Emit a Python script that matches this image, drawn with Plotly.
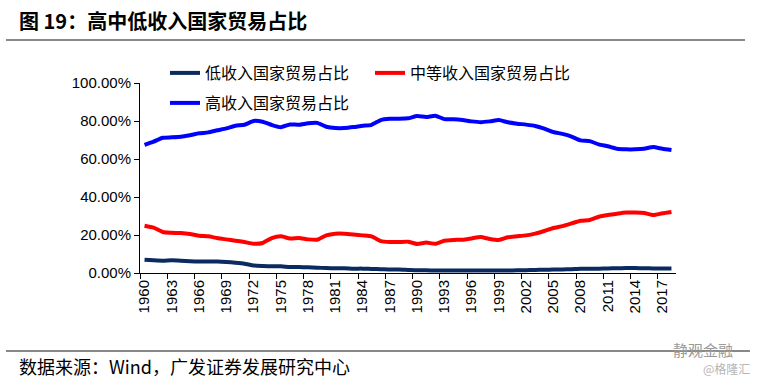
import plotly.graph_objects as go

years = list(range(1960, 2019))

low_income = [7.0, 6.7, 6.5, 6.7, 6.5, 6.2, 6.0, 6.0, 6.0, 5.8,
              5.4, 4.9, 4.0, 3.7, 3.5, 3.5, 3.2, 3.2, 3.0, 2.8,
              2.6, 2.5, 2.5, 2.3, 2.3, 2.1, 2.0, 1.8, 1.8, 1.6,
              1.4, 1.4, 1.3, 1.3, 1.3, 1.3, 1.3, 1.3, 1.3, 1.3,
              1.3, 1.4, 1.5, 1.6, 1.7, 1.8, 1.9, 2.0, 2.2, 2.2,
              2.3, 2.4, 2.5, 2.6, 2.6, 2.5, 2.4, 2.4, 2.4]

mid_income = [24.9, 23.9, 21.6, 21.2, 21.0, 20.5, 19.6, 19.3, 18.4, 17.7,
              17.0, 16.3, 15.4, 15.8, 18.4, 19.3, 18.2, 18.4, 17.7, 17.5,
              19.8, 20.7, 20.7, 20.3, 19.8, 19.3, 16.8, 16.3, 16.3, 16.5,
              15.3, 16.0, 15.4, 17.0, 17.4, 17.5, 18.2, 18.9, 17.9, 17.4,
              18.8, 19.3, 19.8, 20.7, 22.1, 23.7, 24.7, 26.1, 27.5, 27.9,
              29.6, 30.5, 31.2, 31.8, 31.8, 31.6, 30.5, 31.4, 32.1]

high_income = [67.4, 69.1, 71.2, 71.4, 71.7, 72.5, 73.5, 74.0, 75.1, 76.1,
               77.5, 78.0, 80.0, 79.6, 77.9, 76.7, 78.2, 78.0, 78.8, 79.0,
               77.0, 76.3, 76.3, 76.8, 77.5, 78.0, 80.5, 81.2, 81.2, 81.4,
               82.6, 82.1, 82.8, 81.0, 80.9, 80.5, 79.8, 79.4, 79.8, 80.5,
               79.3, 78.6, 78.1, 77.4, 76.0, 74.2, 73.2, 71.8, 69.8, 69.4,
               67.7, 66.7, 65.4, 65.1, 65.1, 65.4, 66.3, 65.4, 64.7]

series_names = ["低收入国家贸易占比", "中等收入国家贸易占比", "高收入国家贸易占比"]
label_years = years[::3]
y_ticks = [0, 0.2, 0.4, 0.6, 0.8, 1.0]

title_text = "<b>图 19：高中低收入国家贸易占比</b>"
source_text = "数据来源：Wind，广发证券发展研究中心"

W, H = 757, 381
ML, MR, MT, MB = 140, 81, 83, 108
PW, PH = W - ML - MR, H - MT - MB

def px_x(p):
    return (p - ML) / PW

def px_y(p):
    return (H - MB - p) / PH

cjk = "Noto Sans CJK SC"
arial = "Liberation Sans, Arial"

fig = go.Figure()
specs = [
    (low_income, "#0B2A5F", series_names[0], "legend"),
    (mid_income, "#FF0000", series_names[1], "legend"),
    (high_income, "#0000FF", series_names[2], "legend2"),
]
for vals, color, name, leg in specs:
    fig.add_trace(go.Scatter(
        x=years, y=[v / 100 for v in vals], mode="lines", name=name,
        line=dict(color=color, width=4, shape="spline", smoothing=0.5),
        legend=leg,
    ))

# invisible trace to carry the boundary-tick axis
fig.add_trace(go.Scatter(x=years, y=[v / 100 for v in low_income], xaxis="x2",
                         mode="lines", line=dict(width=0), opacity=0,
                         showlegend=False, hoverinfo="skip"))

fig.update_layout(
    width=W, height=H,
    margin=dict(l=ML, r=MR, t=MT, b=MB),
    paper_bgcolor="white", plot_bgcolor="white",
    font=dict(family=arial, size=15, color="black"),
    showlegend=True,
    xaxis=dict(
        range=[years[0] - 0.5, years[-1] + 0.5],
        tickmode="array", tickvals=label_years,
        ticktext=[str(y) for y in label_years],
        tickangle=-90, ticks="", showgrid=False, zeroline=False,
        showline=True, linecolor="black", linewidth=1,
        tickfont=dict(family=arial, size=15, color="black"),
    ),
    xaxis2=dict(
        overlaying="x", anchor="y", side="bottom",
        range=[years[0] - 0.5, years[-1] + 0.5],
        tickmode="array", tickvals=[y - 0.5 for y in label_years],
        ticks="outside", ticklen=5, tickcolor="black", tickwidth=1,
        showticklabels=False, showgrid=False, zeroline=False, showline=False,
    ),
    yaxis=dict(
        range=[0, 1], tickmode="array", tickvals=y_ticks, tickformat=".2%",
        ticks="outside", ticklen=5, tickcolor="black",
        showgrid=False, zeroline=False,
        showline=True, linecolor="black", linewidth=1,
        tickfont=dict(family=arial, size=15, color="black"),
    ),
    legend=dict(
        orientation="h", x=px_x(165), y=px_y(73), xanchor="left", yanchor="middle",
        font=dict(family=cjk, size=16, color="black"),
        entrywidth=160, entrywidthmode="pixels", bgcolor="rgba(0,0,0,0)",
    ),
    legend2=dict(
        orientation="h", x=px_x(165), y=px_y(103), xanchor="left", yanchor="middle",
        font=dict(family=cjk, size=16, color="black"), bgcolor="rgba(0,0,0,0)",
    ),
    shapes=[
        dict(type="line", xref="paper", yref="paper", x0=px_x(6), x1=px_x(745),
             y0=px_y(40), y1=px_y(40), line=dict(color="#606060", width=1.5)),
        dict(type="line", xref="paper", yref="paper", x0=px_x(6), x1=px_x(750),
             y0=px_y(351), y1=px_y(351), line=dict(color="#606060", width=1.5)),
    ],
    annotations=[
        dict(text=title_text, xref="paper", yref="paper", x=px_x(17), y=px_y(20),
             xanchor="left", yanchor="middle", showarrow=False,
             font=dict(family=cjk, size=20, color="black")),
        dict(text=source_text, xref="paper", yref="paper", x=px_x(17), y=px_y(366),
             xanchor="left", yanchor="middle", showarrow=False,
             font=dict(family=cjk, size=18, color="black")),
        dict(text="静观金融", xref="paper", yref="paper", x=px_x(735), y=px_y(349),
             xanchor="right", yanchor="middle", showarrow=False,
             font=dict(family=cjk, size=15, color="#9a9a9a")),
        dict(text="@格隆汇", xref="paper", yref="paper", x=px_x(752), y=px_y(368),
             xanchor="right", yanchor="middle", showarrow=False,
             font=dict(family=cjk, size=12, color="#b5b5b5")),
    ],
)

fig.write_html("out.html", config={"displayModeBar": False},
               post_script="document.body.style.margin='0px';")
